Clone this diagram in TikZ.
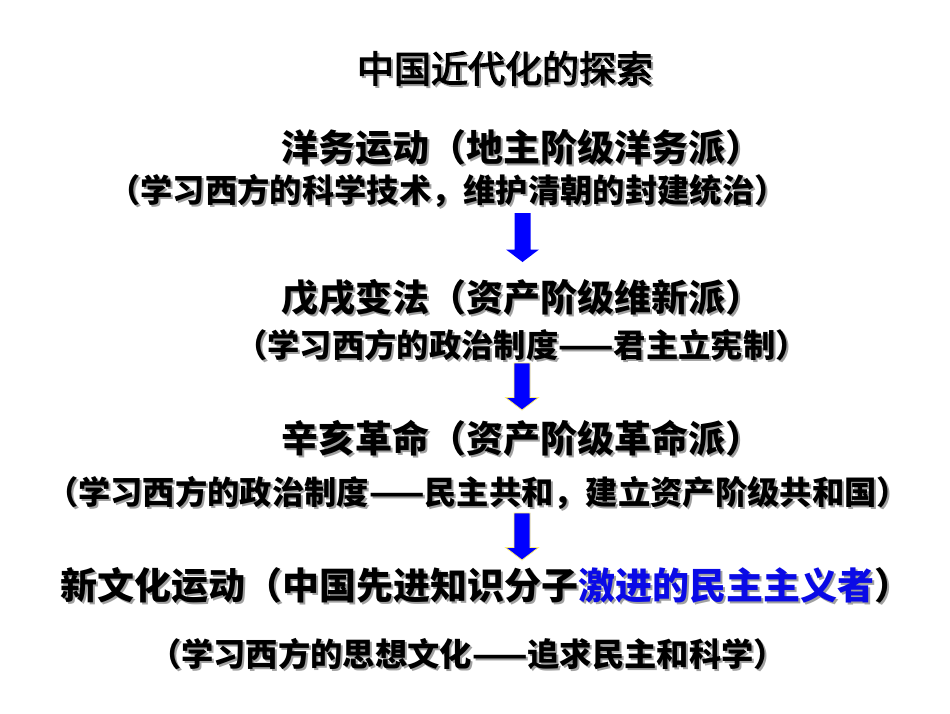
\documentclass[tikz,border=0pt]{standalone}
\usepackage{fontspec}
\setmainfont{Noto Sans CJK SC}
\newfontfamily\cjk{Noto Sans CJK SC}
\newfontfamily\cjktitle{Noto Sans CJK SC}[FakeBold=3]
\definecolor{shadowgray}{RGB}{160,160,160}
\definecolor{arrowblue}{RGB}{0,0,255}
\definecolor{hlblue}{RGB}{10,10,230}
\definecolor{edgeyellow}{RGB}{255,240,120}
\newcommand\hl[1]{\textcolor{hlblue}{#1}}
\newcommand\sh[1]{\makebox[0pt][l]{\hspace{2pt}\raisebox{-2pt}{\color{shadowgray}\def\hl##1{##1}#1}}#1}
\newcommand\barrow[4]{% name, cx, top, tip
  \coordinate (#1) at (#2,#3);
  \fill[blockarrow,#1style] ($(#1)+(-8,0)$) -- ($(#1)+(8,0)$) -- ($(#1)+(8,#4-#3-12.5)$) -- ($(#1)+(16.5,#4-#3-12.5)$) -- ($(#1)+(0,#4-#3)$) -- ($(#1)+(-16.5,#4-#3-12.5)$) -- ($(#1)+(-8,#4-#3-12.5)$) -- cycle;}
\usetikzlibrary{calc}
\begin{document}
\begin{tikzpicture}[x=1pt,y=-1pt,
  big/.style={anchor=base,inner sep=0pt,font=\cjk\bfseries\fontsize{37}{40}\selectfont},
  small/.style={anchor=base,inner sep=0pt,font=\cjk\bfseries\fontsize{32.3}{36}\selectfont},
  titlefont/.style={anchor=base,inner sep=0pt,font=\cjktitle\fontsize{37}{40}\selectfont},
  blockarrow/.style={fill=arrowblue},
  a1style/.style={},
  a2style/.style={draw=edgeyellow,line width=0.8pt},
  a3style/.style={draw=edgeyellow,line width=0.8pt}]
\useasboundingbox[fill=white] (0,0) rectangle (950,713);
\node[titlefont] (title) at (505,82.5) {\sh{中国近代化的探索}};
\node[big] (l1) at (521.5,161) {\sh{洋务运动（地主阶级洋务派）}};
\node[small] (d1) at (447.5,202) {\sh{（学习西方的科学技术，维护清朝的封建统治）}};
\node[big] (l2) at (521.5,311) {\sh{戊戌变法（资产阶级维新派）}};
\node[small] (d2) at (521.5,357) {\sh{（学习西方的政治制度——君主立宪制）}};
\node[big] (l3) at (521.5,452) {\sh{辛亥革命（资产阶级革命派）}};
\node[small] (d3) at (477.5,504) {\sh{（学习西方的政治制度——民主共和，建立资产阶级共和国）}};
\node[big] (l4) at (485.5,599) {\sh{新文化运动（中国先进知识分子\hl{激进的民主主义者}）}};
\node[small] (d4) at (467.5,666) {\sh{（学习西方的思想文化——追求民主和科学）}};
\barrow{a1}{522.5}{213}{262}
\barrow{a2}{522}{363}{410}
\barrow{a3}{522}{513}{560}
\end{tikzpicture}
\end{document}
